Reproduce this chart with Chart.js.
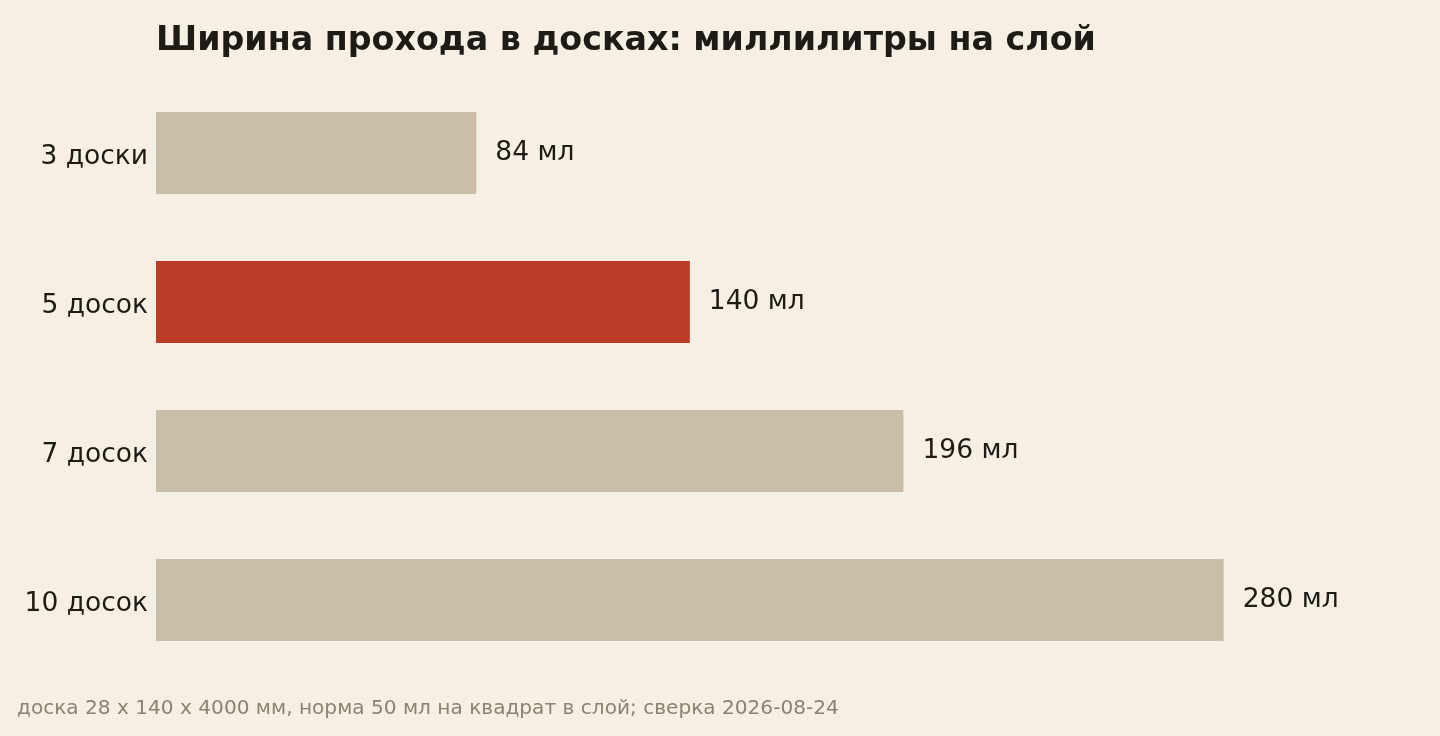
<!DOCTYPE html>
<html>
<head>
<meta charset="utf-8">
<script src="https://cdn.jsdelivr.net/npm/chart.js@4.4.1/dist/chart.umd.min.js"></script>
<style>
  html, body { margin: 0; padding: 0; background: #f6f0e4; }
  #wrap { position: relative; width: 1440px; height: 736px; }
</style>
</head>
<body>
<div id="wrap"><canvas id="c"></canvas></div>
<script>
const categories = ['3 доски', '5 досок', '7 досок', '10 досок'];
const values = [84, 140, 196, 280];
const unit = 'мл';
const highlightCategory = '5 досок';
const titleText = 'Ширина прохода в досках: миллилитры на слой';
const footerText = 'доска 28 x 140 x 4000 мм, норма 50 мл на квадрат в слой; сверка 2026-08-24';

const BG = '#f6f0e4';
const BAR = '#c9bfa8';
const HIGHLIGHT = '#bc3c27';
const TEXT = '#1e1a14';
const MUTED = '#8a8272';
const FONT = "'DejaVu Sans', sans-serif";

const barColors = categories.map(c => c === highlightCategory ? HIGHLIGHT : BAR);

const decor = {
  id: 'decor',
  beforeDraw(chart) {
    const ctx = chart.ctx;
    ctx.save();
    ctx.fillStyle = BG;
    ctx.fillRect(0, 0, chart.width, chart.height);
    ctx.restore();
  },
  afterDatasetsDraw(chart) {
    const ctx = chart.ctx;
    const meta = chart.getDatasetMeta(0);
    ctx.save();
    ctx.font = "26.5px " + FONT;
    ctx.fillStyle = TEXT;
    ctx.textBaseline = 'middle';
    ctx.textAlign = 'left';
    meta.data.forEach((bar, i) => {
      ctx.fillText(values[i] + ' ' + unit, bar.x + 19, bar.y);
    });
    ctx.restore();
  },
  afterDraw(chart) {
    const ctx = chart.ctx;
    ctx.save();
    ctx.fillStyle = TEXT;
    ctx.font = "bold 33.3px " + FONT;
    ctx.textBaseline = 'alphabetic';
    ctx.textAlign = 'left';
    ctx.fillText(titleText, chart.chartArea.left, 50);
    ctx.fillStyle = MUTED;
    ctx.font = "20.1px " + FONT;
    ctx.fillText(footerText, 17, 714);
    ctx.restore();
  }
};

new Chart(document.getElementById('c'), {
  type: 'bar',
  data: {
    labels: categories,
    datasets: [{
      data: values,
      backgroundColor: barColors,
      borderWidth: 0,
      barPercentage: 0.55,
      categoryPercentage: 1.0
    }]
  },
  options: {
    indexAxis: 'y',
    responsive: true,
    maintainAspectRatio: false,
    animation: false,
    devicePixelRatio: 1,
    layout: { padding: { top: 78.5, bottom: 61.5, left: 0, right: 140 } },
    plugins: {
      legend: { display: false },
      title: { display: false },
      tooltip: { enabled: false }
    },
    scales: {
      x: {
        display: false,
        min: 0,
        max: 300
      },
      y: {
        grid: { display: false, drawTicks: false },
        border: { display: false },
        ticks: {
          color: TEXT,
          font: { family: FONT, size: 26.5 },
          padding: 8,
          labelOffset: 4
        },
        afterFit(scale) { scale.width = 156; }
      }
    }
  },
  plugins: [decor]
});
</script>
</body>
</html>
